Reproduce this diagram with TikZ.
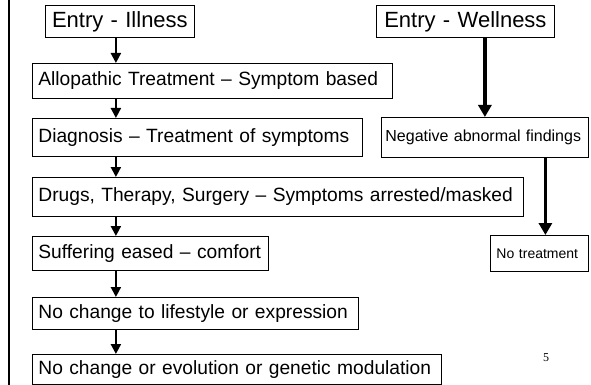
\documentclass[tikz,border=0pt]{standalone}
\usepackage{fontspec}
\setmainfont{Liberation Sans}
\newfontfamily\pagefont{Liberation Serif}
\usetikzlibrary{arrows.meta}

\tikzset{
  box/.style={draw, line width=0.8pt, anchor=north west, inner xsep=6pt, inner ysep=0pt,
    align=left, font=\fontsize{19.2}{23}\selectfont},
  entry/.style={box, align=center, font=\fontsize{22}{26}\selectfont},
  thinarr/.style={line width=2.2pt, -{Triangle[width=10pt,length=10pt]}},
  thickarr/.style={line width=3.5pt, -{Triangle[width=13pt,length=12pt]}}
}

\begin{document}
\begin{tikzpicture}[x=1pt,y=-1pt]
    \useasboundingbox (0,0) rectangle (591,385);
    \draw[line width=2.5pt] (9,0) -- (9,385);
    \node[entry, text width=137pt, minimum height=32pt] (ill) at (45,5) {Entry - Illness};
    \node[entry, text width=166pt, minimum height=32pt] (well) at (376,5) {Entry - Wellness};
    \node[box, text width=348pt, minimum height=35pt] (allo) at (32,63) {Allopathic Treatment -- Symptom based};
    \node[box, text width=318pt, minimum height=38pt] (diag) at (32,118) {Diagnosis -- Treatment of symptoms};
    \node[box, text width=479pt, minimum height=39pt] (drug) at (32,177) {Drugs, Therapy, Surgery -- Symptoms arrested/masked};
    \node[box, text width=224pt, minimum height=34pt] (suff) at (32,236) {Suffering eased -- comfort};
    \node[box, text width=314pt, minimum height=32pt] (life) at (32,297) {No change to lifestyle or expression};
    \node[box, text width=397pt, minimum height=30pt] (evo) at (32,354) {No change or evolution or genetic modulation};
    \node[box, inner xsep=4pt, text width=199pt, minimum height=40pt, font=\fontsize{16}{19}\selectfont] (neg) at (381,117) {Negative abnormal findings};
    \node[box, text width=86pt, minimum height=36pt, font=\fontsize{14}{17}\selectfont] (notr) at (490,235) {No treatment};
    \node[font=\pagefont\fontsize{12}{14}\selectfont] (pg) at (546,358) {5};
    \draw[thinarr] ([xshift=-4pt]ill.south) -- ([xshift=-4pt]ill.south |- allo.north);
    \draw[thinarr] ([xshift=-4pt]ill.south |- allo.south) -- ([xshift=-4pt]ill.south |- diag.north);
    \draw[thinarr] ([xshift=-4pt]ill.south |- diag.south) -- ([xshift=-4pt]ill.south |- drug.north);
    \draw[thinarr] ([xshift=-4pt]ill.south |- drug.south) -- ([xshift=-4pt]ill.south |- suff.north);
    \draw[thinarr] ([xshift=-4pt]ill.south |- suff.south) -- ([xshift=-4pt]ill.south |- life.north);
    \draw[thinarr] ([xshift=-4pt]ill.south |- life.south) -- ([xshift=-4pt]ill.south |- evo.north);
    \draw[thickarr] (well.south -| neg.north) -- (neg.north);
    \draw[thickarr] ([xshift=6pt]notr.north |- neg.south) -- ([xshift=6pt]notr.north);
\end{tikzpicture}
\end{document}
